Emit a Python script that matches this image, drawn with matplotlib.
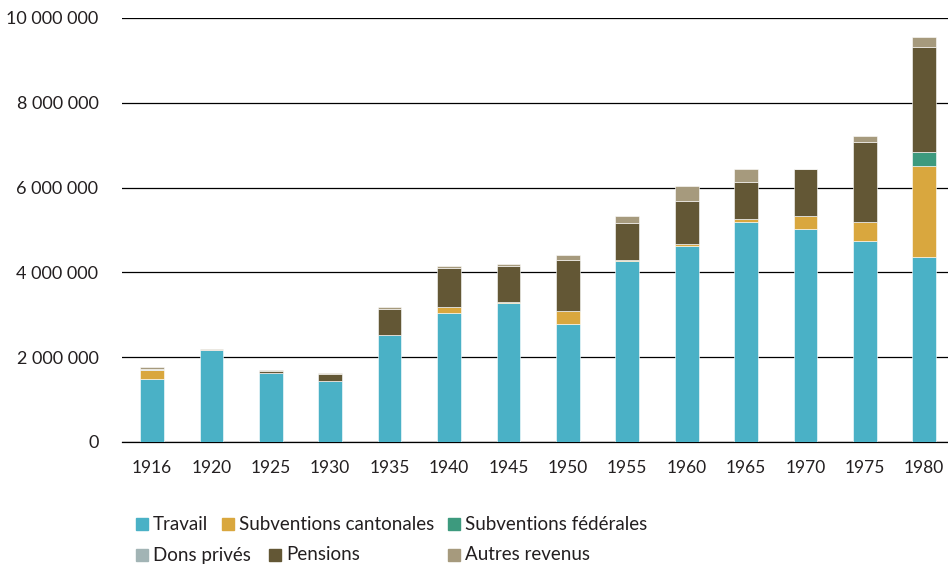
import matplotlib.pyplot as plt
import numpy as np
from matplotlib.patches import Rectangle
from matplotlib.ticker import FuncFormatter

plt.rcParams["font.family"] = ["Lato", "DejaVu Sans"]

years = ["1916", "1920", "1925", "1930", "1935", "1940", "1945",
         "1950", "1955", "1960", "1965", "1970", "1975", "1980"]

travail = [1490000, 2170000, 1630000, 1440000, 2520000, 3040000, 3280000,
           2780000, 4270000, 4620000, 5190000, 5020000, 4740000, 4360000]
cantonales = [210000, 0, 0, 0, 0, 140000, 20000,
              310000, 30000, 50000, 70000, 310000, 450000, 2150000]
federales = [0, 0, 0, 0, 0, 0, 0,
             0, 0, 0, 0, 0, 0, 330000]
dons = [10000, 10000, 0, 0, 0, 0, 0,
        0, 0, 0, 0, 0, 0, 0]
pensions = [0, 0, 50000, 160000, 620000, 920000, 850000,
            1200000, 870000, 1010000, 870000, 1110000, 1890000, 2480000]
autres = [70000, 20000, 20000, 30000, 40000, 50000, 50000,
          120000, 150000, 350000, 310000, 10000, 140000, 240000]

series = [
    ("Travail", travail, "#4ab1c6"),
    ("Subventions cantonales", cantonales, "#d9a73e"),
    ("Subventions fédérales", federales, "#3d9a7e"),
    ("Dons privés", dons, "#a2b4b5"),
    ("Pensions", pensions, "#635735"),
    ("Autres revenus", autres, "#a69a7d"),
]

text_color = "#231f20"

fig = plt.figure(figsize=(9.48, 5.64), dpi=100)
ax = fig.add_axes([122 / 948, 1 - 442 / 564, 826 / 948, 424 / 564])

x = np.arange(len(years))
bottom = np.zeros(len(years))
for name, vals, color in series:
    vals = np.array(vals, dtype=float)
    ax.bar(x, vals, width=0.40, bottom=bottom, color=color,
           edgecolor="white", linewidth=0.4, zorder=3)
    bottom += vals

ax.set_ylim(0, 10000000)
ax.set_xlim(-0.505, 13.4)
ax.set_yticks(np.arange(0, 10000001, 2000000))
ax.yaxis.set_major_formatter(
    FuncFormatter(lambda v, p: f"{int(v):,}".replace(",", " ")))
ax.grid(axis="y", color="black", linewidth=0.9, zorder=1)
ax.set_xticks(x)
ax.set_xticklabels(years)
ax.tick_params(axis="both", length=0, colors=text_color)
ax.tick_params(axis="y", pad=17, labelsize=13)
ax.tick_params(axis="x", pad=13, labelsize=12.5)
for s in ["left", "right", "top"]:
    ax.spines[s].set_visible(False)
ax.spines["bottom"].set_linewidth(0.9)

# legend laid out in two rows, as in the reference
legend_pos = [
    (136, 524), (222, 524), (448, 524),
    (136, 555), (269, 555), (448, 555),
]
W, H = 948, 564
for (name, vals, color), (px, py) in zip(series, legend_pos):
    fig.patches.append(Rectangle((px / W, 1 - (py + 6) / H), 12 / W, 12 / H,
                                 transform=fig.transFigure, color=color))
    fig.text((px + 17) / W, 1 - py / H, name, fontsize=13.5,
             color=text_color, va="center", ha="left")

fig.savefig("out.png", dpi=100)
